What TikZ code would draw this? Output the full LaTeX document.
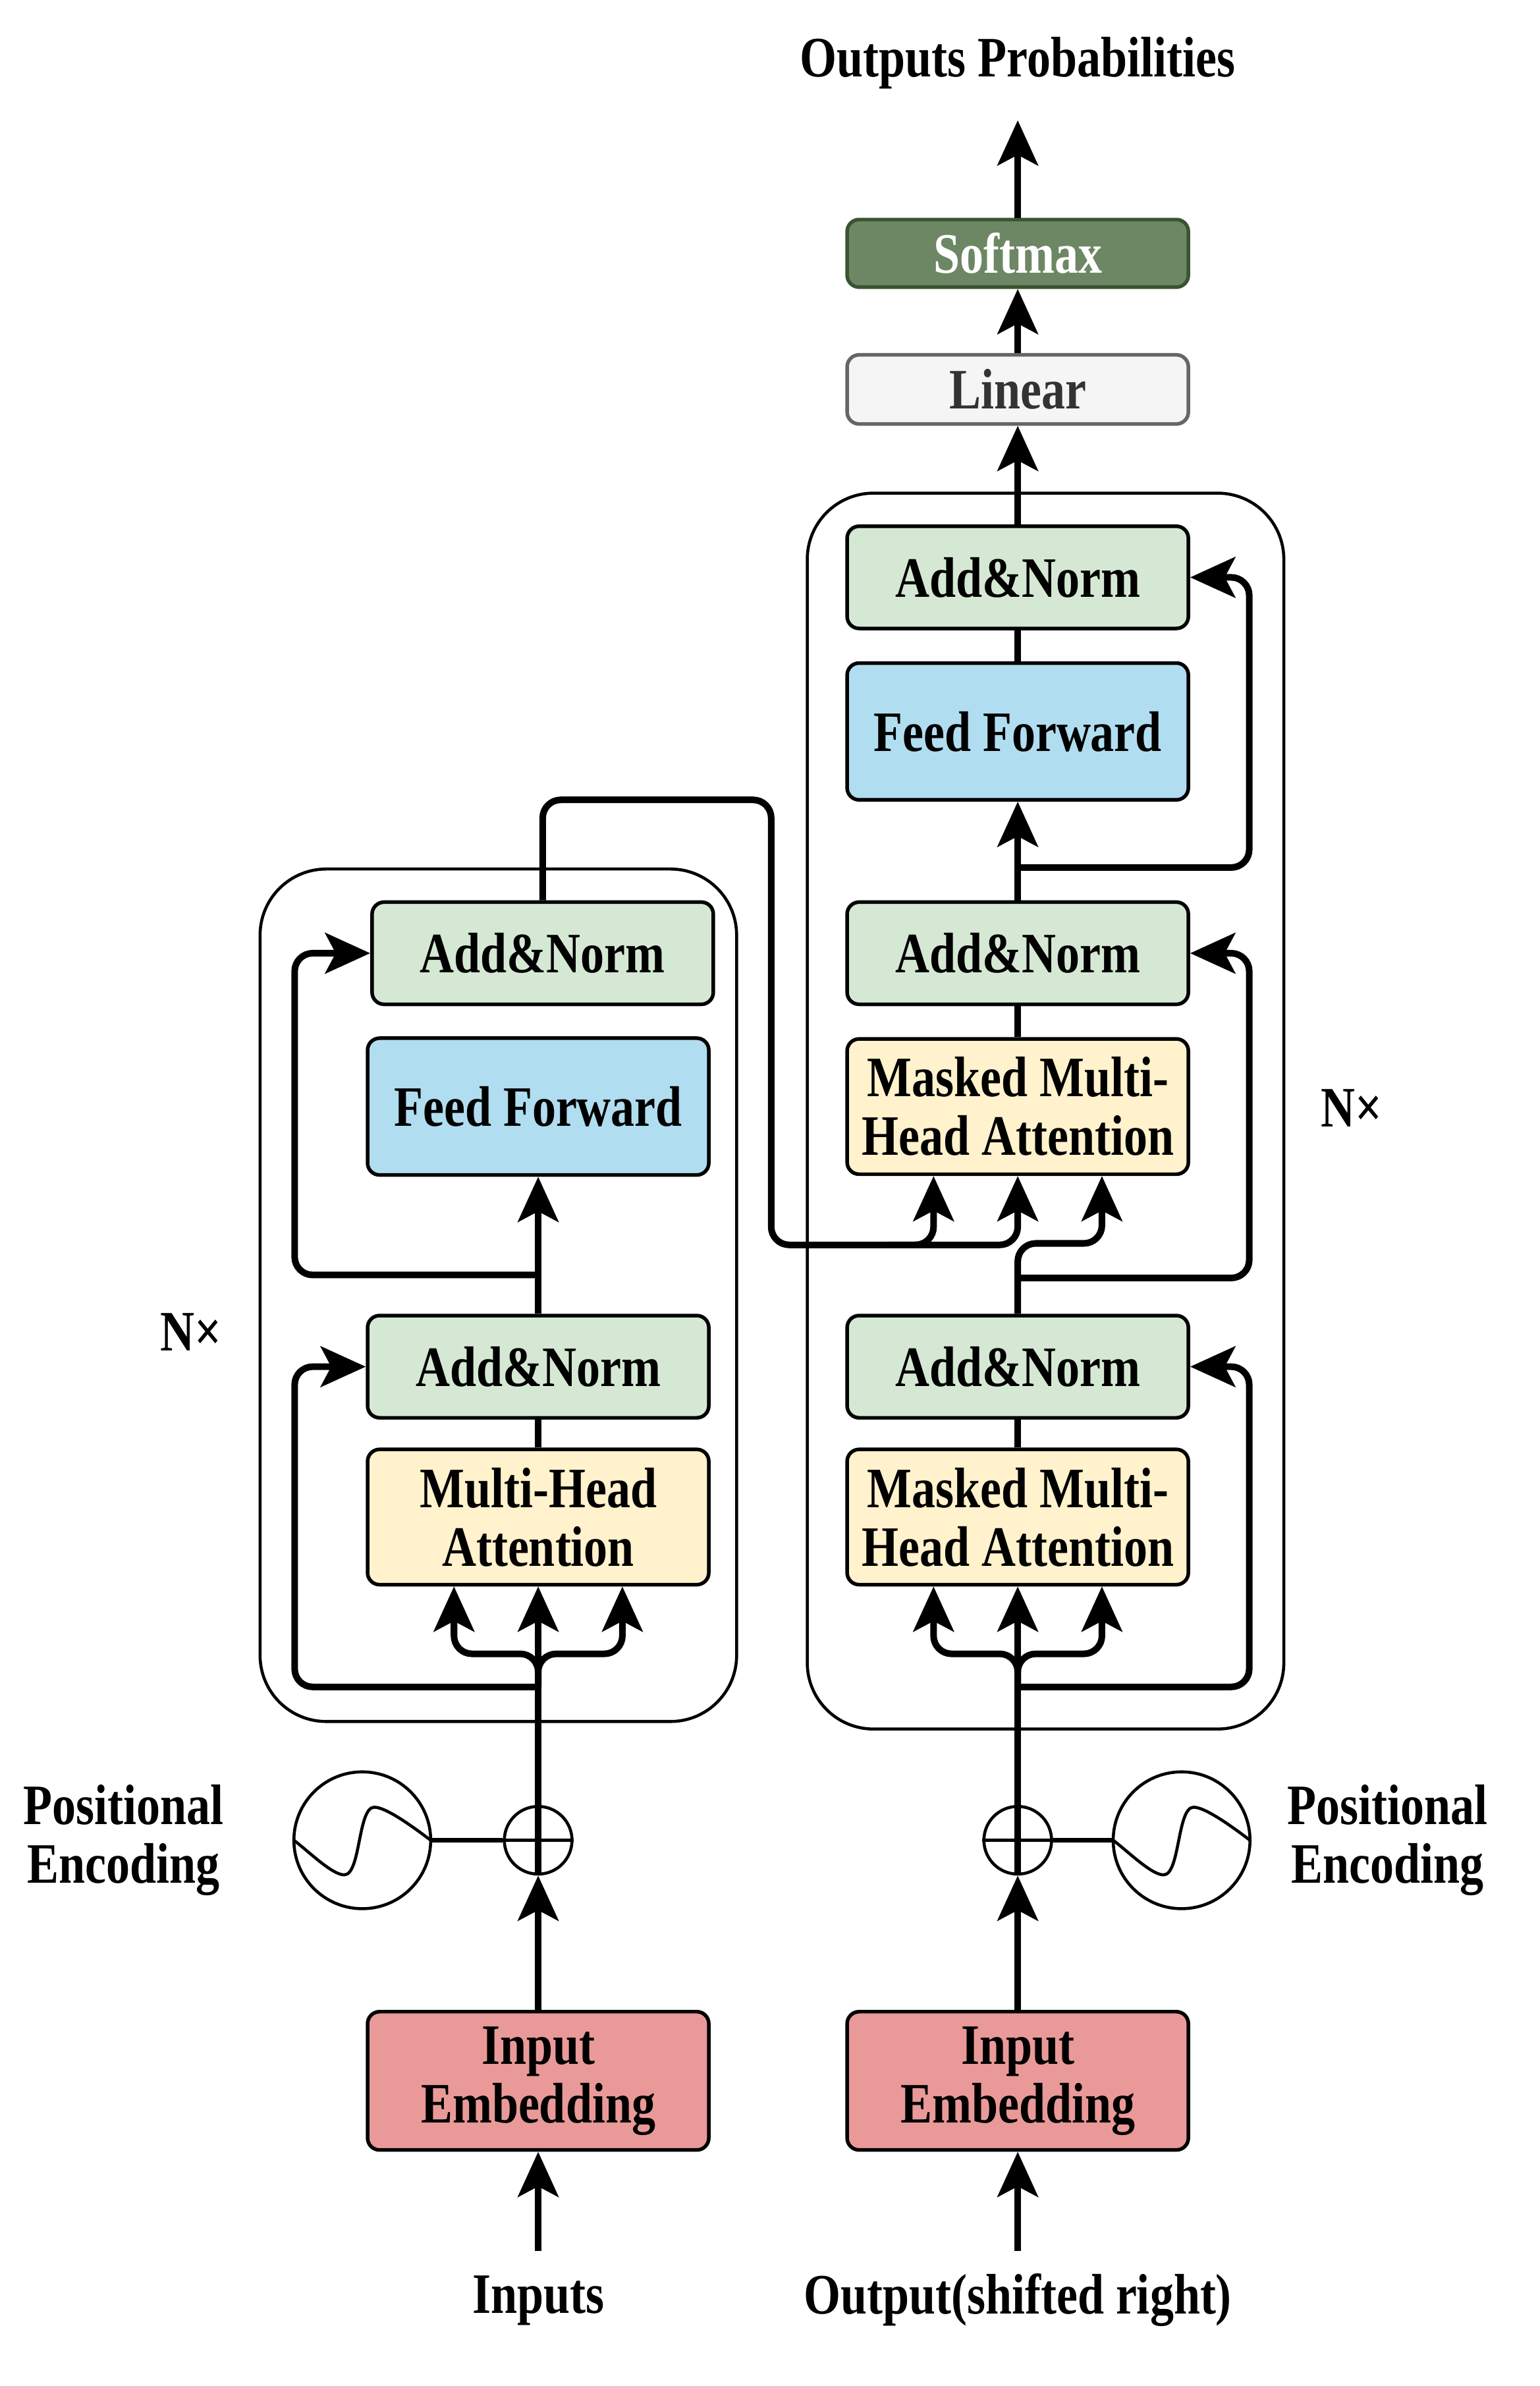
\documentclass[tikz,border=0pt]{standalone}
\usepackage{fontspec}
\setmainfont{Liberation Serif}[FakeStretch=0.83]
\usetikzlibrary{arrows.meta}
\definecolor{cgreen}{HTML}{D5E8D4}
\definecolor{cblue}{HTML}{B1DDF0}
\definecolor{cyellow}{HTML}{FFF2CC}
\definecolor{cred}{HTML}{EA9999}
\definecolor{csoft}{HTML}{6D8764}
\definecolor{csoftb}{HTML}{3A5431}
\definecolor{clin}{HTML}{F5F5F5}
\definecolor{clinb}{HTML}{666666}
\definecolor{clint}{HTML}{333333}
\begin{document}
\begin{tikzpicture}[x=0.5pt,y=-0.5pt,
 every node/.style={font=\fontsize{19}{19.5}\selectfont\bfseries, inner sep=0pt, align=center},
 blk/.style={draw=black, line width=1.2pt, rounded corners=4pt, minimum width=113.5pt},
 anbox/.style={blk, fill=cgreen, minimum height=34pt},
 ffbox/.style={blk, fill=cblue, minimum height=45.5pt},
 attbox/.style={blk, fill=cyellow, minimum height=45pt},
 embbox/.style={blk, fill=cred, minimum height=46pt},
 conn/.style={line width=2.2pt, line join=round, rounded corners=6pt},
 arr/.style={conn, -{Stealth[length=15pt,width=13.5pt,inset=3.5pt]}},
 wrap/.style={draw, line width=1pt, rounded corners=22pt},
 thinl/.style={line width=1pt},
 plusc/.style={circle, draw, thinl, minimum size=22.5pt},
 sinc/.style={circle, draw, thinl, minimum size=45.5pt}
]
\useasboundingbox (0,0) rectangle (1024,1587);

% containers
\draw[wrap] (173,578) rectangle (490,1145);
\draw[wrap] (537,328) rectangle (854,1150);

% top of decoder
\node (title) at (677,42) {Outputs Probabilities};
\node[blk, fill=csoft, draw=csoftb, minimum height=22.5pt, text=white] (soft) at (677,168.5) {Softmax};
\node[blk, fill=clin, draw=clinb, minimum height=23pt, text=clint] (lin) at (677,259) {Linear};

% decoder blocks
\node[anbox] (d3) at (677,384) {Add\&Norm};
\node[ffbox] (dff) at (677,486.5) {Feed Forward};
\node[anbox] (d2) at (677,634) {Add\&Norm};
\node[attbox] (dm2) at (677,736) {Masked Multi-\\Head Attention};
\node[anbox] (d1) at (677,909) {Add\&Norm};
\node[attbox] (dm1) at (677,1009) {Masked Multi-\\Head Attention};
\node[embbox] (demb) at (677,1384) {Input\\Embedding};

% encoder blocks
\node[anbox] (e2) at (361,634) {Add\&Norm};
\node[ffbox] (eff) at (358,736) {Feed Forward};
\node[anbox] (e1) at (358,909) {Add\&Norm};
\node[attbox] (em) at (358,1009) {Multi-Head\\Attention};
\node[embbox] (eemb) at (358,1384) {Input\\Embedding};

% positional encoding
\node[plusc] (ep) at (358,1224) {};
\node[sinc] (es) at (241,1224) {};
\node[plusc] (dp) at (677,1224) {};
\node[sinc] (ds) at (786,1224) {};
\foreach \c in {es,ds}{
  \begin{scope}[shift={(\c.center)}]
    \draw[thinl] (-45.5,0) .. controls (-35,8) and (-20,23) .. (-12,23)
      .. controls (-1,23) and (-3,-22) .. (8,-22)
      .. controls (16,-22) and (35,-8) .. (45.5,0);
  \end{scope}
}
\draw[thinl] (ep.west) -- (ep.east);
\draw[thinl] (dp.west) -- (dp.east);
\draw[line width=1.6pt] (es.east) -- (ep.west);
\draw[line width=1.6pt] (dp.east) -- (ds.west);

% labels
\node (inputs) at (358,1530) {Inputs};
\node (outputs) at (677,1530) {Output(shifted right)};
\node (nx1) at (127,886) {N×};
\node (nx2) at (899,737) {N×};
\node (pe1) at (82,1224) {Positional\\Encoding};
\node (pe2) at (923,1224) {Positional\\Encoding};

% encoder connectors
\coordinate (ein) at (358,1497);
\draw[arr] (ein) -- (eemb.south);
\draw[arr] (eemb.north) -- (ep.south);
\coordinate (eb) at (358,1122);
\draw[conn] (ep.south) -- (eb);
\draw[arr] (eb) -- (em.south);
\draw[arr] (eb) -- ++(0,-22) -| ([xshift=-28pt]em.south);
\draw[arr] (eb) -- ++(0,-22) -| ([xshift=28pt]em.south);
\draw[arr] (eb) -| (196,909) -- (e1.west);
\draw[conn] (em.north) -- (e1.south);
\draw[arr] (e1.north) -- (eff.south);
\coordinate (eb2) at (358,848);
\draw[arr] (eb2) -| (196,634) -- (e2.west);
\draw[arr] (e2.north) |- (513,532) -- (513,828) -| ([xshift=-28pt]dm2.south);
\draw[arr] (590,828) -| (dm2.south);

% decoder connectors
\coordinate (din) at (677,1497);
\draw[arr] (din) -- (demb.south);
\draw[arr] (demb.north) -- (dp.south);
\coordinate (db) at (677,1122);
\draw[conn] (dp.south) -- (db);
\draw[arr] (db) -- (dm1.south);
\draw[arr] (db) -- ++(0,-22) -| ([xshift=-28pt]dm1.south);
\draw[arr] (db) -- ++(0,-22) -| ([xshift=28pt]dm1.south);
\draw[arr] (db) -| (831,909) -- (d1.east);
\draw[conn] (dm1.north) -- (d1.south);
\draw[arr] (d1.north) -- (677,827) -| ([xshift=28pt]dm2.south);
\coordinate (db2) at (677,850);
\draw[arr] (db2) -| (831,634) -- (d2.east);
\draw[conn] (dm2.north) -- (d2.south);
\draw[arr] (d2.north) -- (dff.south);
\coordinate (db3) at (677,577);
\draw[arr] (db3) -| (831,384) -- (d3.east);
\draw[conn] (dff.north) -- (d3.south);
\draw[arr] (d3.north) -- (lin.south);
\draw[arr] (lin.north) -- (soft.south);
\coordinate (pout) at (677,80);
\draw[arr] (soft.north) -- (pout);
\end{tikzpicture}
\end{document}
